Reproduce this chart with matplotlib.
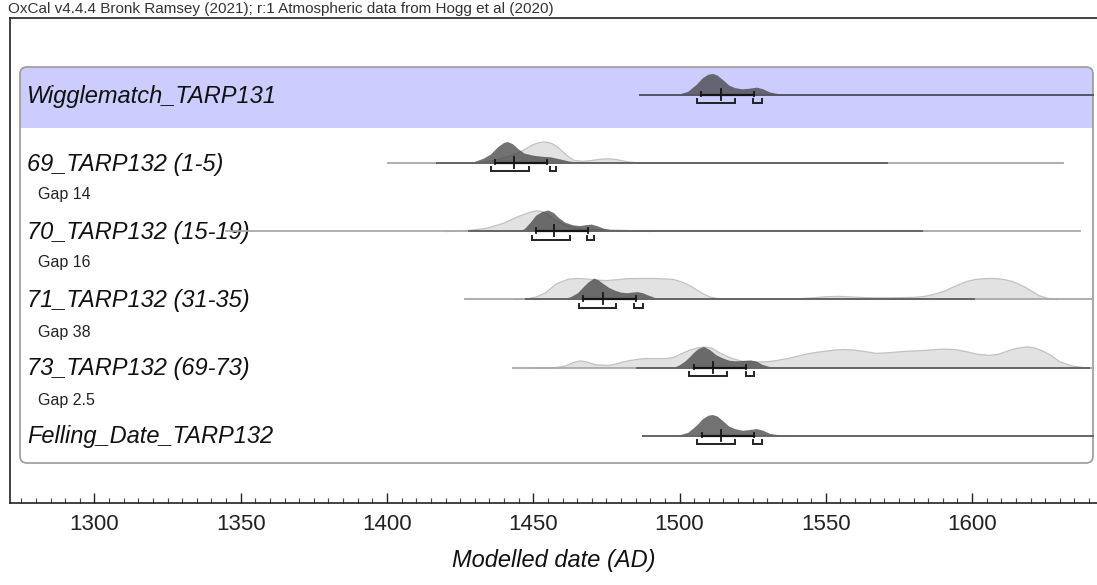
import matplotlib
matplotlib.use("Agg")
import matplotlib.pyplot as plt
from matplotlib.patches import FancyBboxPatch, Rectangle
from matplotlib.ticker import MultipleLocator

plt.rcParams["font.family"] = ["Liberation Sans", "DejaVu Sans"]

# ---------------------------------------------------------------- data
header_text = "OxCal v4.4.4 Bronk Ramsey (2021); r:1 Atmospheric data from Hogg et al (2020)"
row_labels = ["Wigglematch_TARP131", "69_TARP132 (1-5)", "70_TARP132 (15-19)",
              "71_TARP132 (31-35)", "73_TARP132 (69-73)", "Felling_Date_TARP132"]
gap_labels = ["Gap 14", "Gap 16", "Gap 38", "Gap 2.5"]
x_ticks = [1300, 1350, 1400, 1450, 1500, 1550, 1600]
x_label = "Modelled date (AD)"

# posterior (dark) and likelihood (light) profiles, relative height 0..1
wiggle_post_years = [1497, 1500, 1503, 1506, 1508, 1510, 1511.5, 1513, 1515, 1517, 1519,
                     1521.5, 1524, 1526.4, 1528.5, 1531, 1534, 1538, 1545]
wiggle_post_dens = [0, 0.03, 0.15, 0.5, 0.8, 0.97, 1.0, 0.93, 0.7, 0.45, 0.33,
                    0.27, 0.3, 0.35, 0.28, 0.12, 0.04, 0.01, 0]

r69_like_years = [1428, 1432, 1436, 1440, 1444, 1446.5, 1450, 1452, 1454, 1456, 1458, 1460,
                  1462, 1464, 1467, 1470, 1473, 1476, 1479, 1482, 1486]
r69_like_dens = [0, 0.03, 0.1, 0.25, 0.42, 0.6, 0.88, 0.97, 1.0, 0.95, 0.8, 0.55,
                 0.3, 0.12, 0.08, 0.12, 0.18, 0.2, 0.15, 0.06, 0]
r69_post_years = [1425, 1430, 1433, 1435.5, 1438, 1440, 1441.3, 1443, 1445, 1447, 1450,
                  1453, 1456, 1459, 1462, 1465, 1468]
r69_post_dens = [0, 0.05, 0.2, 0.4, 0.75, 0.95, 1.0, 0.9, 0.65, 0.45, 0.35,
                 0.3, 0.27, 0.18, 0.08, 0.02, 0]

r70_like_years = [1420, 1428, 1434, 1440, 1445, 1449, 1451, 1453, 1455, 1458, 1462, 1466,
                  1470, 1475, 1480, 1485, 1490]
r70_like_dens = [0, 0.05, 0.15, 0.4, 0.72, 0.92, 0.98, 0.95, 0.8, 0.5, 0.25, 0.12,
                 0.1, 0.08, 0.06, 0.03, 0]
r70_post_years = [1444, 1447, 1449, 1451, 1453, 1455.2, 1457, 1459, 1461, 1463.5, 1466,
                  1468, 1470, 1472, 1474, 1477, 1480]
r70_post_dens = [0, 0.1, 0.4, 0.75, 0.92, 1.0, 0.88, 0.62, 0.42, 0.3, 0.26,
                 0.3, 0.33, 0.25, 0.14, 0.05, 0]

r71_like_years = [1444, 1447.6, 1451, 1454, 1458, 1462, 1465, 1468, 1471, 1475, 1479, 1482,
                  1487, 1491, 1495, 1498, 1500.5, 1503, 1506, 1508, 1510.4, 1513, 1516,
                  1530, 1540, 1545.6, 1550, 1554, 1559, 1565, 1572, 1580, 1584, 1588,
                  1591, 1594, 1598, 1601, 1605, 1608, 1611, 1614, 1618, 1621, 1623,
                  1626, 1629]
r71_like_dens = [0, 0.02, 0.12, 0.3, 0.75, 0.97, 1.0, 0.98, 0.93, 0.9, 0.95, 0.99,
                 1.0, 1.0, 0.98, 0.95, 0.85, 0.7, 0.45, 0.28, 0.12, 0.05, 0.02,
                 0.01, 0.03, 0.08, 0.13, 0.15, 0.12, 0.08, 0.08, 0.1, 0.15, 0.28,
                 0.42, 0.62, 0.85, 0.95, 1.0, 1.0, 0.95, 0.85, 0.6, 0.35, 0.18,
                 0.05, 0]
r71_post_years = [1459, 1461, 1463, 1465.3, 1467, 1468.8, 1470.9, 1472.5, 1474.4, 1476,
                  1478, 1480, 1482.2, 1484, 1485.7, 1487.5, 1489.2, 1491.5, 1493.5, 1496]
r71_post_dens = [0, 0.03, 0.12, 0.3, 0.55, 0.8, 1.0, 0.9, 0.7, 0.55,
                 0.42, 0.33, 0.3, 0.33, 0.35, 0.3, 0.2, 0.08, 0.03, 0]

r73_like_years = [1450, 1456.8, 1461, 1463.5, 1466, 1468.5, 1471, 1475.4, 1478, 1481, 1485,
                  1488, 1492, 1495.5, 1498, 1501, 1503.5, 1506, 1508.4, 1511, 1514, 1518,
                  1522, 1526, 1530, 1533, 1537, 1540, 1544, 1547, 1552.7, 1556, 1560,
                  1564, 1567, 1571, 1576, 1583, 1590, 1594, 1598, 1602, 1606, 1609,
                  1612, 1615, 1618.7, 1621, 1624.4, 1627, 1630, 1634, 1637.3, 1640]
r73_like_dens = [0, 0.0, 0.1, 0.25, 0.34, 0.28, 0.16, 0.12, 0.18, 0.3, 0.4,
                 0.45, 0.45, 0.45, 0.5, 0.7, 0.85, 0.95, 1.0, 0.95, 0.7, 0.45,
                 0.3, 0.28, 0.3, 0.35, 0.45, 0.55, 0.68, 0.75, 0.85, 0.88, 0.85,
                 0.77, 0.7, 0.72, 0.78, 0.83, 0.9, 0.88, 0.78, 0.65, 0.6, 0.65,
                 0.8, 0.93, 1.0, 0.97, 0.8, 0.6, 0.3, 0.1, 0.03, 0]
r73_post_years = [1496, 1498.3, 1500, 1501.9, 1503.5, 1504.8, 1506.5, 1508.4, 1510.5,
                  1512.7, 1515, 1517, 1519, 1521.2, 1523, 1524.5, 1526.5, 1528.4,
                  1530.5, 1532.7, 1535]
r73_post_dens = [0, 0.02, 0.12, 0.3, 0.5, 0.7, 0.9, 1.0, 0.85, 0.6, 0.45, 0.35,
                 0.32, 0.33, 0.35, 0.36, 0.3, 0.15, 0.06, 0.02, 0]

felling_post_years = [1497, 1500, 1503, 1506, 1508, 1510, 1511.4, 1513, 1515, 1517, 1519,
                      1521.7, 1524, 1526.4, 1528.5, 1531, 1534.3, 1538, 1545]
felling_post_dens = [0, 0.03, 0.15, 0.5, 0.8, 0.97, 1.0, 0.93, 0.7, 0.45, 0.33,
                     0.25, 0.28, 0.33, 0.26, 0.1, 0.03, 0.01, 0]

# range lines (light = likelihood span, dark = posterior span)
like_spans = [None, (1400.3, 1631), (1345, 1637), (1426.5, 1641.4), (1443.2, 1641.4), None]
post_spans = [(1486.5, 1641.4), (1417, 1571), (1428, 1583), (1447.6, 1600.7),
              (1485.4, 1640), (1487.5, 1641.4)]

# mean +/- sigma bar: (low, high, mean)
sigma_bars = [(1507.3, 1525.5, 1514.2), (1437, 1454.8, 1443.4), (1450.9, 1468.8, 1457.1),
              (1467, 1485, 1473.7), (1504.8, 1522.7, 1511.5), (1507.6, 1525.5, 1514.3)]
# 95.4% ranges
ranges_95 = [[(1506, 1519), (1525.2, 1528.3)],
             [(1435.5, 1448.5), (1455.7, 1457.7)],
             [(1449.5, 1462.6), (1468.5, 1470.9)],
             [(1465.5, 1478.4), (1484.6, 1487.5)],
             [(1503.3, 1516.2), (1522.7, 1525.5)],
             [(1505.9, 1519), (1525.2, 1528.3)]]

likes = [None, (r69_like_years, r69_like_dens), (r70_like_years, r70_like_dens),
         (r71_like_years, r71_like_dens), (r73_like_years, r73_like_dens), None]
posts = [(wiggle_post_years, wiggle_post_dens), (r69_post_years, r69_post_dens),
         (r70_post_years, r70_post_dens), (r71_post_years, r71_post_dens),
         (r73_post_years, r73_post_dens), (felling_post_years, felling_post_dens)]

# ---------------------------------------------------------------- layout (pixels)
W, H = 1097, 585
AX_LEFT, AX_TOP, AX_BOTTOM = 10, 18, 503
PX_PER_YEAR = 2.925
X0 = 1300 - (94.5 - AX_LEFT) / PX_PER_YEAR
X1 = X0 + (W - AX_LEFT) / PX_PER_YEAR
row_base = [95, 163, 231.5, 299.5, 368, 436]
gap_y = [194, 263, 332, 400]
PEAK = 21          # pixel height of a unit density
BOX = (20, 67, 1093, 463)
HEADER_BOTTOM = 128

fig = plt.figure(figsize=(W / 100, H / 100), dpi=100)
fig.patch.set_facecolor("white")

ov = fig.add_axes([0, 0, 1, 1], zorder=0)
ov.set_xlim(0, W)
ov.set_ylim(H, 0)
ov.axis("off")

# rounded group box with blue header band
bx0, by0, bx1, by1 = BOX
box = FancyBboxPatch((bx0, by0), bx1 - bx0, by1 - by0,
                     boxstyle="round,pad=0,rounding_size=7",
                     facecolor="white", edgecolor="none")
ov.add_patch(box)
band = Rectangle((bx0, by0), bx1 - bx0, HEADER_BOTTOM - by0,
                 facecolor="#ccccff", edgecolor="none")
ov.add_patch(band)
band.set_clip_path(box)
edge = FancyBboxPatch((bx0, by0), bx1 - bx0, by1 - by0,
                      boxstyle="round,pad=0,rounding_size=7",
                      facecolor="none", edgecolor="#9a9a9a", linewidth=1.2)
ov.add_patch(edge)

ov.text(8, 9, header_text, fontsize=11, color="#333333", va="center", ha="left")
for lbl, y in zip(row_labels, row_base):
    ov.text(27, y + 1, lbl, fontsize=17, style="italic", color="#111111",
            va="center", ha="left")
for lbl, y in zip(gap_labels, gap_y):
    ov.text(38, y, lbl, fontsize=11.5, color="#222222", va="center", ha="left")
ov.text((AX_LEFT + W) / 2, 561, x_label, fontsize=17, style="italic", color="#111111",
        va="center", ha="center")

# ---------------------------------------------------------------- date axis
ax = fig.add_axes([AX_LEFT / W, (H - AX_BOTTOM) / H, 1 - AX_LEFT / W,
                   (AX_BOTTOM - AX_TOP) / H], zorder=1)
ax.patch.set_alpha(0)
ax.set_xlim(X0, X1)
ax.set_ylim(AX_BOTTOM, AX_TOP)
ax.set_yticks([])
ax.spines["right"].set_visible(False)
for s in ("left", "top", "bottom"):
    ax.spines[s].set_color("#222222")
    ax.spines[s].set_linewidth(1.2)
ax.set_xticks(x_ticks)
ax.set_xticklabels([str(t) for t in x_ticks])
ax.xaxis.set_minor_locator(MultipleLocator(5))
ax.tick_params(axis="x", which="major", direction="in", length=7.5, width=1,
               labelsize=16, pad=8, colors="#222222")
ax.tick_params(axis="x", which="minor", direction="in", length=3.8, width=0.8,
               colors="#444444")

LIGHT_FILL, LIGHT_EDGE = "#e2e2e2", "#c2c2c2"
DARK, DARK_ALPHA = "#3c3c3c", 0.72

for i, base in enumerate(row_base):
    if likes[i] is not None:
        yrs, dens = likes[i]
        tops = [base - PEAK * d for d in dens]
        ax.fill_between(yrs, base, tops, facecolor=LIGHT_FILL, edgecolor="none", zorder=2)
        ax.plot(yrs, tops, color=LIGHT_EDGE, lw=0.9, zorder=2.1)
    if like_spans[i] is not None:
        ax.plot(like_spans[i], [base, base], color="#a8a8a8", lw=1.3, zorder=2.2)
    yrs, dens = posts[i]
    tops = [base - PEAK * d for d in dens]
    ax.fill_between(yrs, base, tops, facecolor=DARK, alpha=DARK_ALPHA,
                    edgecolor="none", zorder=3)
    ax.plot(post_spans[i], [base, base], color="#555566" if i == 0 else "#666666",
            lw=1.4, zorder=3.2)

    lo, hi, mean = sigma_bars[i]
    ax.plot([lo, hi], [base, base], color="#151515", lw=1.6, zorder=4)
    ax.plot([lo, lo], [base - 3, base + 1.5], color="#151515", lw=1.3, zorder=4)
    ax.plot([hi, hi], [base - 3, base + 1.5], color="#151515", lw=1.3, zorder=4)
    ax.plot([mean, mean], [base - 6, base + 5], color="#151515", lw=1.3, zorder=4)
    for a, b in ranges_95[i]:
        yb = base + 8.5
        ax.plot([a, a, b, b], [yb - 4, yb, yb, yb - 4], color="#222222", lw=1.4,
                zorder=4, solid_joinstyle="miter")

fig.savefig("out.png", dpi=100)
